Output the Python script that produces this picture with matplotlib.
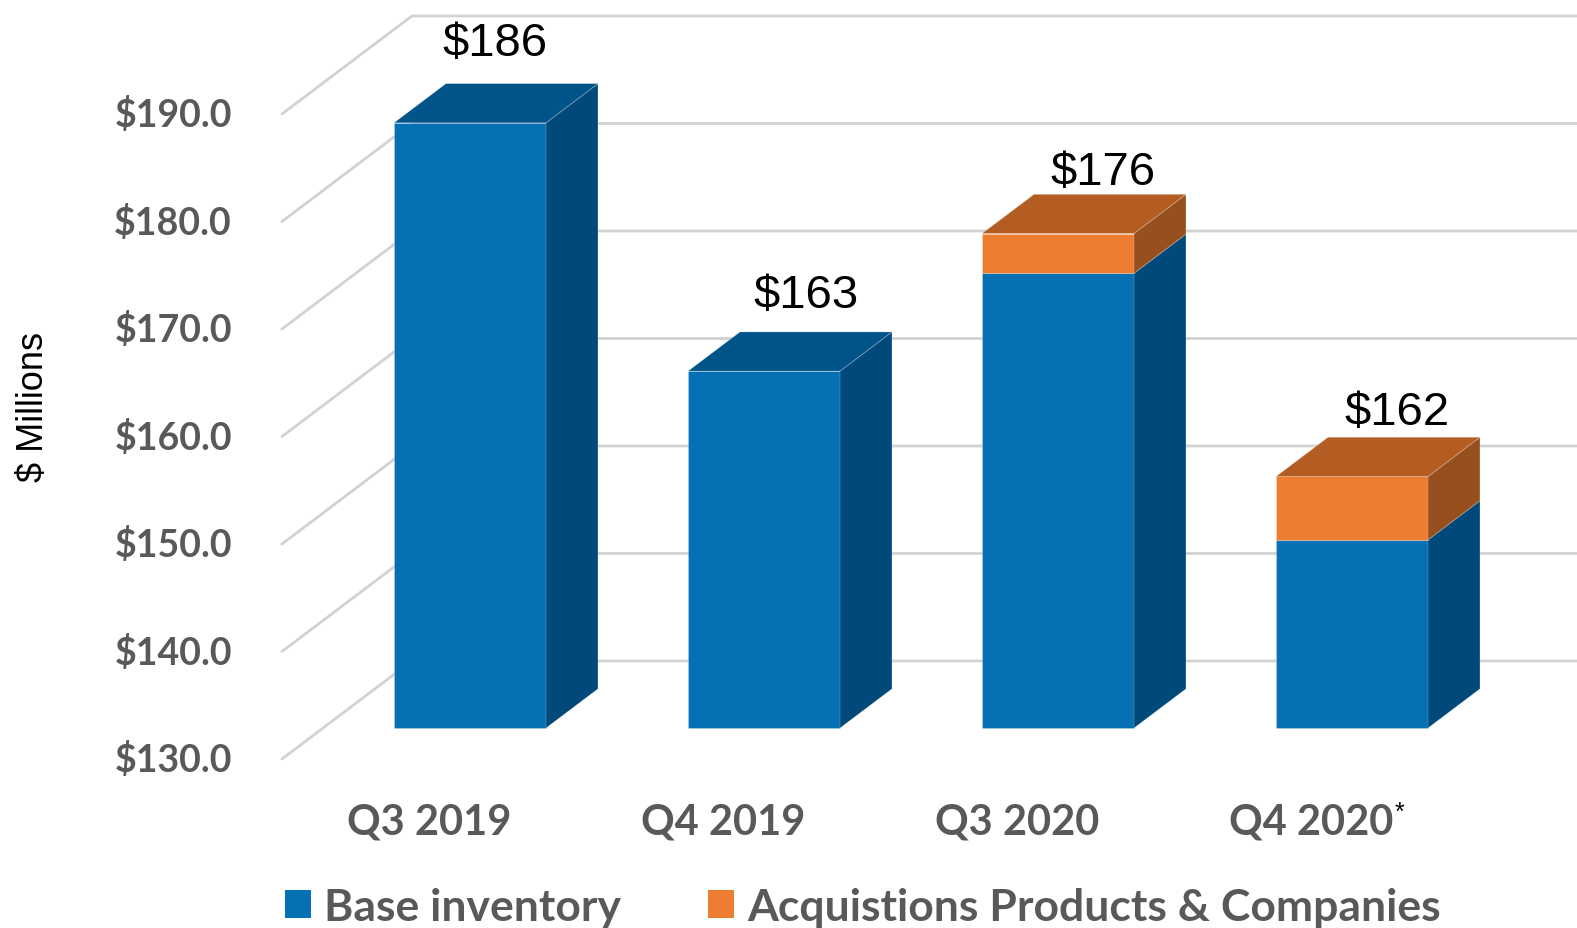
import matplotlib
matplotlib.use('Agg')
import matplotlib.pyplot as plt
from matplotlib.patches import Polygon, Patch

# data ($ millions)
quarters = ['Q3 2019', 'Q4 2019', 'Q3 2020', 'Q4 2020']
base_inventory = [186.3, 163.2, 172.3, 147.5]
acquisitions = [0.0, 0.0, 3.7, 5.9]
total_labels = ['$186', '$163', '$176', '$162']
y_ticks = [130, 140, 150, 160, 170, 180, 190]
y_tick_labels = ['$%.1f' % t for t in y_ticks]
series_names = ['Base inventory', 'Acquistions Products & Companies']

# fake 3d box: depth offset in (category, value) units
DX, DY = 0.442, 9.12
Z0, Z1 = 0.316, 0.716      # bar front / back depth
HALF_W = 0.2585
WALL_X = -0.5
FLOOR = 130

BLUE = ('#0570b3', '#00548a', '#00497a')     # front, top, side
ORANGE = ('#ed7d31', '#b35d22', '#984f1e')
GRID = '#d2d2d2'
TXT = '#595959'

# value label nudges in pixels (the original labels are not centred exactly)
label_dx = [-1, 16, 19, 19]
label_dy = [60, 57, 42, 45]

def P(x, v, z):
    return (x + z * DX, v + z * DY)

def box(ax, i, lo, hi, colors, top=True):
    front, topc, side = colors
    a, b = i - HALF_W, i + HALF_W
    faces = [
        ([P(a, lo, Z0), P(b, lo, Z0), P(b, hi, Z0), P(a, hi, Z0)], front),
        ([P(b, lo, Z0), P(b, lo, Z1), P(b, hi, Z1), P(b, hi, Z0)], side),
    ]
    if top:
        faces.append(([P(a, hi, Z0), P(b, hi, Z0), P(b, hi, Z1), P(a, hi, Z1)], topc))
    for pts, c in faces:
        ax.add_patch(Polygon(pts, closed=True, facecolor=c,
                             edgecolor=(1, 1, 1, 0.25), lw=0.6, zorder=3))

fig = plt.figure(figsize=(15.77, 9.29), dpi=100)
ax = fig.add_axes([0, 0, 1, 1])
ax.set_xlim(-1.459, 3.905)
ax.set_ylim(114.28, 200.70)
ax.axis('off')

# side wall and back wall gridlines
for t, lab in zip(y_ticks, y_tick_labels):
    x0, y0 = P(WALL_X, t, 0)
    x1, y1 = P(WALL_X, t, 1)
    ax.plot([x0, x1, 4.5], [y0, y1, y1], color=GRID, lw=2.0,
            solid_capstyle='round', zorder=1)
    ax.annotate(lab, xy=(x0, y0), xytext=(-36, 0), textcoords='offset points',
                ha='right', va='center', fontsize=27, fontweight='bold',
                family='Lato', color=TXT)

for i in range(len(quarters)):
    base = base_inventory[i]
    acq = acquisitions[i]
    box(ax, i, FLOOR, base, BLUE, top=(acq == 0))
    if acq > 0:
        box(ax, i, base, base + acq, ORANGE)
    tx, ty = P(i, base + acq, (Z0 + Z1) / 2)
    ax.annotate(total_labels[i], xy=(tx, ty),
                xytext=(label_dx[i] * 0.72, label_dy[i] * 0.72),
                textcoords='offset points', ha='center', va='center',
                fontsize=34, family='Liberation Sans', color='black')
    t = ax.annotate(quarters[i], xy=(i, FLOOR), xytext=(0, -45),
                    textcoords='offset points', ha='center', va='center',
                    fontsize=30, fontweight='bold', family='Lato', color=TXT)
    if i == len(quarters) - 1:
        ax.annotate('*', xy=(1, 1), xycoords=t, xytext=(1, 2),
                    textcoords='offset points', ha='left', va='top',
                    fontsize=18, family='Liberation Sans', color='black')

ax.text(0.021, 0.562, '$ Millions', transform=ax.transAxes, rotation=90,
        ha='center', va='center', fontsize=26, family='Liberation Sans',
        color='black')

handles = [Patch(facecolor=BLUE[0]), Patch(facecolor=ORANGE[0])]
fig.legend(handles, series_names, loc='center left',
           bbox_to_anchor=(285 / 1577, 21 / 929), ncol=2, frameon=False,
           prop={'family': 'Lato', 'weight': 'bold', 'size': 32},
           labelcolor=TXT, handlelength=0.59, handleheight=0.59,
           handletextpad=0.29, columnspacing=1.95, borderpad=0,
           borderaxespad=0)

fig.savefig('out.png', dpi=100)
